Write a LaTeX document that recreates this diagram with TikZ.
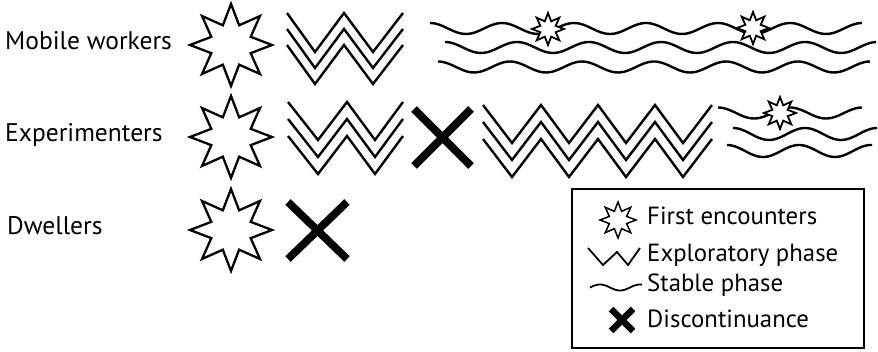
\documentclass[tikz,border=0pt]{standalone}
\usepackage{fontspec}
\setmainfont{PT Sans}
\tikzset{
  burst/.pic={\path[pic actions] (90:1) foreach \i in {1,...,15}{ -- ({90+22.5*\i}:{1-0.48*mod(\i,2)}) } -- cycle;},
  bigstar/.style={draw=black, fill=white, line width=2.3pt, line join=miter, scale=41},
  smallstar/.style={draw=black, fill=white, line width=1.8pt, line join=miter, scale=16},
  zig/.style={draw=black, line width=2.4pt, line join=miter},
  wave/.style={draw=black, line width=2.4pt},
  xmark/.style={draw=black, line width=7.8pt},
  lbl/.style={anchor=base west, inner sep=0pt, font=\fontsize{25.5}{30}\selectfont},
  leg/.style={anchor=base west, inner sep=0pt, font=\fontsize{24.8}{30}\selectfont},
}
\begin{document}
\begin{tikzpicture}[x=1pt,y=-1pt]
\useasboundingbox (0,0) rectangle (878,352);
% labels
\node[lbl] (mobile) at (5,50) {Mobile workers};
\node[lbl] (exper) at (5,142) {Experimenters};
\node[lbl] (dwell) at (7,235) {Dwellers};
% big stars
\pic[bigstar] at (231,45) {burst};
\pic[bigstar] at (231,137) {burst};
\pic[bigstar] at (231,230) {burst};
% row 1 zigzag
\foreach \d in {0,16,32}{
  \draw[zig] (287,13+\d) -- (315,52+\d) -- (344,13+\d) -- (373,52+\d) -- (403,13+\d);
}
% row 1 waves
\draw[wave] plot[domain=430:862, samples=140, smooth] (\x, {28.5-5.5*cos(5*(\x-430))});
\draw[wave] plot[domain=445:876, samples=140, smooth] (\x, {47.5-5.5*cos(5*(\x-445))});
\draw[wave] plot[domain=438:870, samples=140, smooth] (\x, {67-5.5*cos(5*(\x-438))});
\pic[smallstar] at (548,29) {burst};
\pic[smallstar] at (753,28) {burst};
% row 2 zigzag
\foreach \d in {0,17,34}{
  \draw[zig] (288,102+\d) -- (318,140+\d) -- (347,102+\d) -- (375,140+\d) -- (403,102+\d);
}
\draw[xmark] (414,109) -- (471,166) (414,166) -- (471,109);
\foreach \d in {0,17,34}{
  \draw[zig] (483,105+\d) -- (512,143+\d) -- (541,105+\d) -- (569,143+\d) -- (598,105+\d) -- (626,143+\d) -- (655,105+\d) -- (683,143+\d) -- (712,105+\d);
}
% row 2 waves
\draw[wave] plot[domain=718:862, samples=60, smooth] (\x, {113-5.5*cos(5*(\x-718))});
\draw[wave] plot[domain=733:877, samples=60, smooth] (\x, {134-6*cos(5*(\x-733))});
\draw[wave] plot[domain=727:872, samples=60, smooth] (\x, {151-6*cos(5*(\x-727))});
\pic[smallstar] at (780,113) {burst};
% row 3 X
\draw[xmark] (288,202) -- (347,259) (288,259) -- (347,202);
% legend
\node[draw=black, line width=1.8pt, minimum width=292pt, minimum height=159pt, anchor=north west, inner sep=0pt] (legend) at (571,188) {};
\pic[draw=black, fill=white, line width=1.5pt, scale=18] at (618,220) {burst};
\draw[black, line width=1.8pt, line join=miter] (588,248) -- (603,265) -- (617,252) -- (628,265) -- (640,248);
\draw[black, line width=1.8pt] plot[domain=590:642, samples=40, smooth] (\x, {287.5-3*sin(9*(\x-590))});
\draw[black, line width=6.5pt] (611,309) -- (633,331) (611,331) -- (633,309);
\node[leg] (l1) at (647,225) {First encounters};
\node[leg] (l2) at (647,262) {Exploratory phase};
\node[leg] (l3) at (647,292) {Stable phase};
\node[leg] (l4) at (647,328) {Discontinuance};
\end{tikzpicture}
\end{document}
